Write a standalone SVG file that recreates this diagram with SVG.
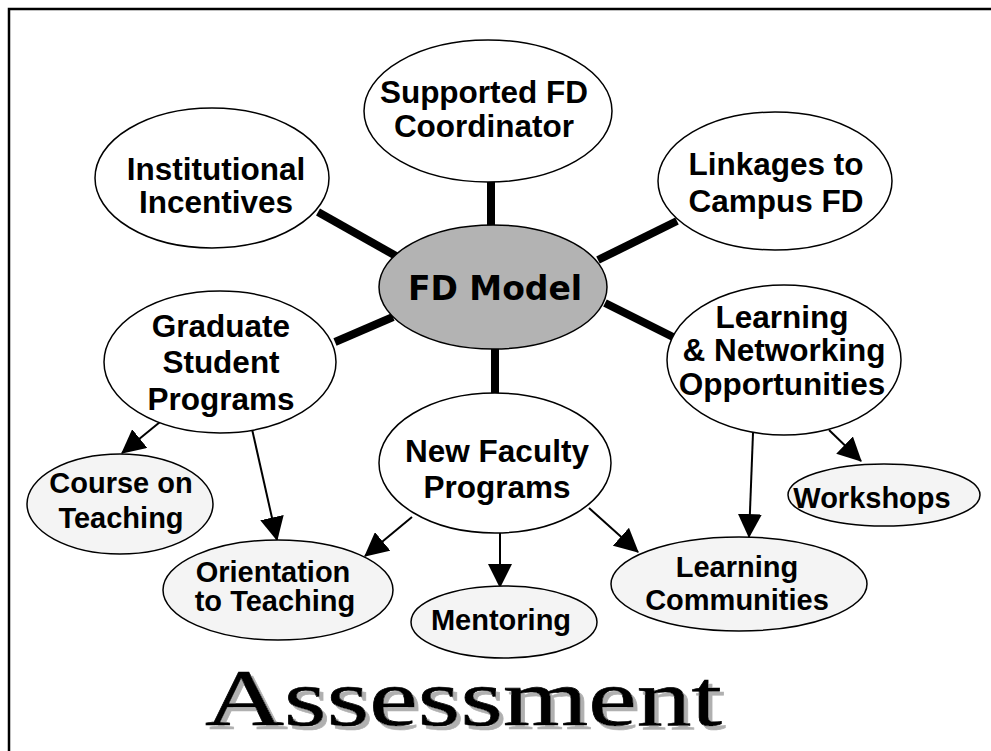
<svg xmlns="http://www.w3.org/2000/svg" width="991" height="751" viewBox="0 0 991 751">
<style>
.n ellipse{fill:#fff;stroke:#000;stroke-width:1.5}
.leaf ellipse{fill:#f4f4f4}
.hub ellipse{fill:#b3b3b3}
.t{font-family:"Liberation Sans",Arial,sans-serif;font-weight:bold;font-size:31.5px;text-anchor:middle;fill:#000}
.s{font-size:29px}
.thick line{stroke:#000;stroke-width:8}
.thin line{stroke:#000;stroke-width:2;marker-end:url(#ah)}
</style>
<defs>
<marker id="ah" markerUnits="userSpaceOnUse" markerWidth="24" markerHeight="24" viewBox="0 0 22 22" refX="21" refY="11" orient="auto">
<path d="M0,0 L22,11 L0,22 z" fill="#000"/>
</marker>
<filter id="sh" x="-5%" y="-20%" width="110%" height="150%">
<feFlood flood-color="#b0b0b0"/>
<feComposite in2="SourceAlpha" operator="in"/>
<feOffset dx="4" dy="4" result="s"/>
<feMerge><feMergeNode in="s"/><feMergeNode in="SourceGraphic"/></feMerge>
</filter>
</defs>
<rect width="991" height="751" fill="#fff"/>
<path d="M9,751 V9 H991" fill="none" stroke="#000" stroke-width="2.5"/>
<g id="connectors">
<g class="thick">
<line x1="491" y1="182" x2="491" y2="226"/>
<line x1="318" y1="212" x2="396" y2="256"/>
<line x1="598" y1="260" x2="677" y2="221"/>
<line x1="335" y1="342" x2="393" y2="317"/>
<line x1="605" y1="303" x2="673" y2="337"/>
<line x1="495" y1="349" x2="495" y2="394"/>
</g>
<g class="thin">
<line x1="160" y1="422" x2="122" y2="453"/>
<line x1="252" y1="429" x2="277" y2="540"/>
<line x1="412" y1="517" x2="365" y2="556"/>
<line x1="500" y1="533" x2="500" y2="587"/>
<line x1="589" y1="508" x2="638" y2="552"/>
<line x1="753" y1="433" x2="749" y2="537"/>
<line x1="829" y1="430" x2="861" y2="461"/>
</g>
</g>
<g id="institutional" class="n"><ellipse cx="212" cy="178" rx="117" ry="70"/><text class="t" x="216" y="180">Institutional</text><text class="t" x="216" y="213">Incentives</text></g>
<g id="coordinator" class="n"><ellipse cx="488" cy="111" rx="124" ry="71"/><text class="t" x="484" y="103">Supported FD</text><text class="t" x="484" y="137">Coordinator</text></g>
<g id="linkages" class="n"><ellipse cx="775" cy="181" rx="117" ry="69"/><text class="t" x="776" y="175">Linkages to</text><text class="t" x="776" y="212">Campus FD</text></g>
<g id="fdmodel" class="n hub"><ellipse cx="493" cy="287" rx="114" ry="62"/><text class="t" x="495" y="300" style="font-family:'DejaVu Sans',Verdana,sans-serif;font-size:33px">FD Model</text></g>
<g id="graduate" class="n"><ellipse cx="220" cy="362" rx="116" ry="71"/><text class="t" x="221" y="337">Graduate</text><text class="t" x="221" y="373">Student</text><text class="t" x="221" y="410">Programs</text></g>
<g id="networking" class="n"><ellipse cx="784" cy="360" rx="117" ry="75"/><text class="t" x="782" y="328">Learning</text><text class="t" x="784" y="361">&amp; Networking</text><text class="t" x="782" y="395">Opportunities</text></g>
<g id="newfaculty" class="n"><ellipse cx="495" cy="463" rx="116" ry="70"/><text class="t" x="497" y="462">New Faculty</text><text class="t" x="497" y="498">Programs</text></g>
<g id="course" class="n leaf"><ellipse cx="120" cy="504" rx="93" ry="50"/><text class="t s" x="121" y="493">Course on</text><text class="t s" x="121" y="528">Teaching</text></g>
<g id="orientation" class="n leaf"><ellipse cx="278" cy="590" rx="115" ry="50"/><text class="t s" x="273" y="582">Orientation</text><text class="t s" x="275" y="611">to Teaching</text></g>
<g id="mentoring" class="n leaf"><ellipse cx="504" cy="622" rx="93" ry="36"/><text class="t s" x="501" y="630">Mentoring</text></g>
<g id="communities" class="n leaf"><ellipse cx="739" cy="584" rx="128" ry="47"/><text class="t s" x="737" y="577">Learning</text><text class="t s" x="737" y="610">Communities</text></g>
<g id="workshops" class="n leaf"><ellipse cx="884" cy="495" rx="96" ry="31"/><text class="t s" x="872" y="508">Workshops</text></g>
<g id="assessment">
<text x="205" y="725" textLength="517" lengthAdjust="spacingAndGlyphs" filter="url(#sh)" style="font-family:'Liberation Serif','Times New Roman',serif;font-size:80px;fill:#000;stroke:#000;stroke-width:0.6">Assessment</text>
</g>
</svg>
